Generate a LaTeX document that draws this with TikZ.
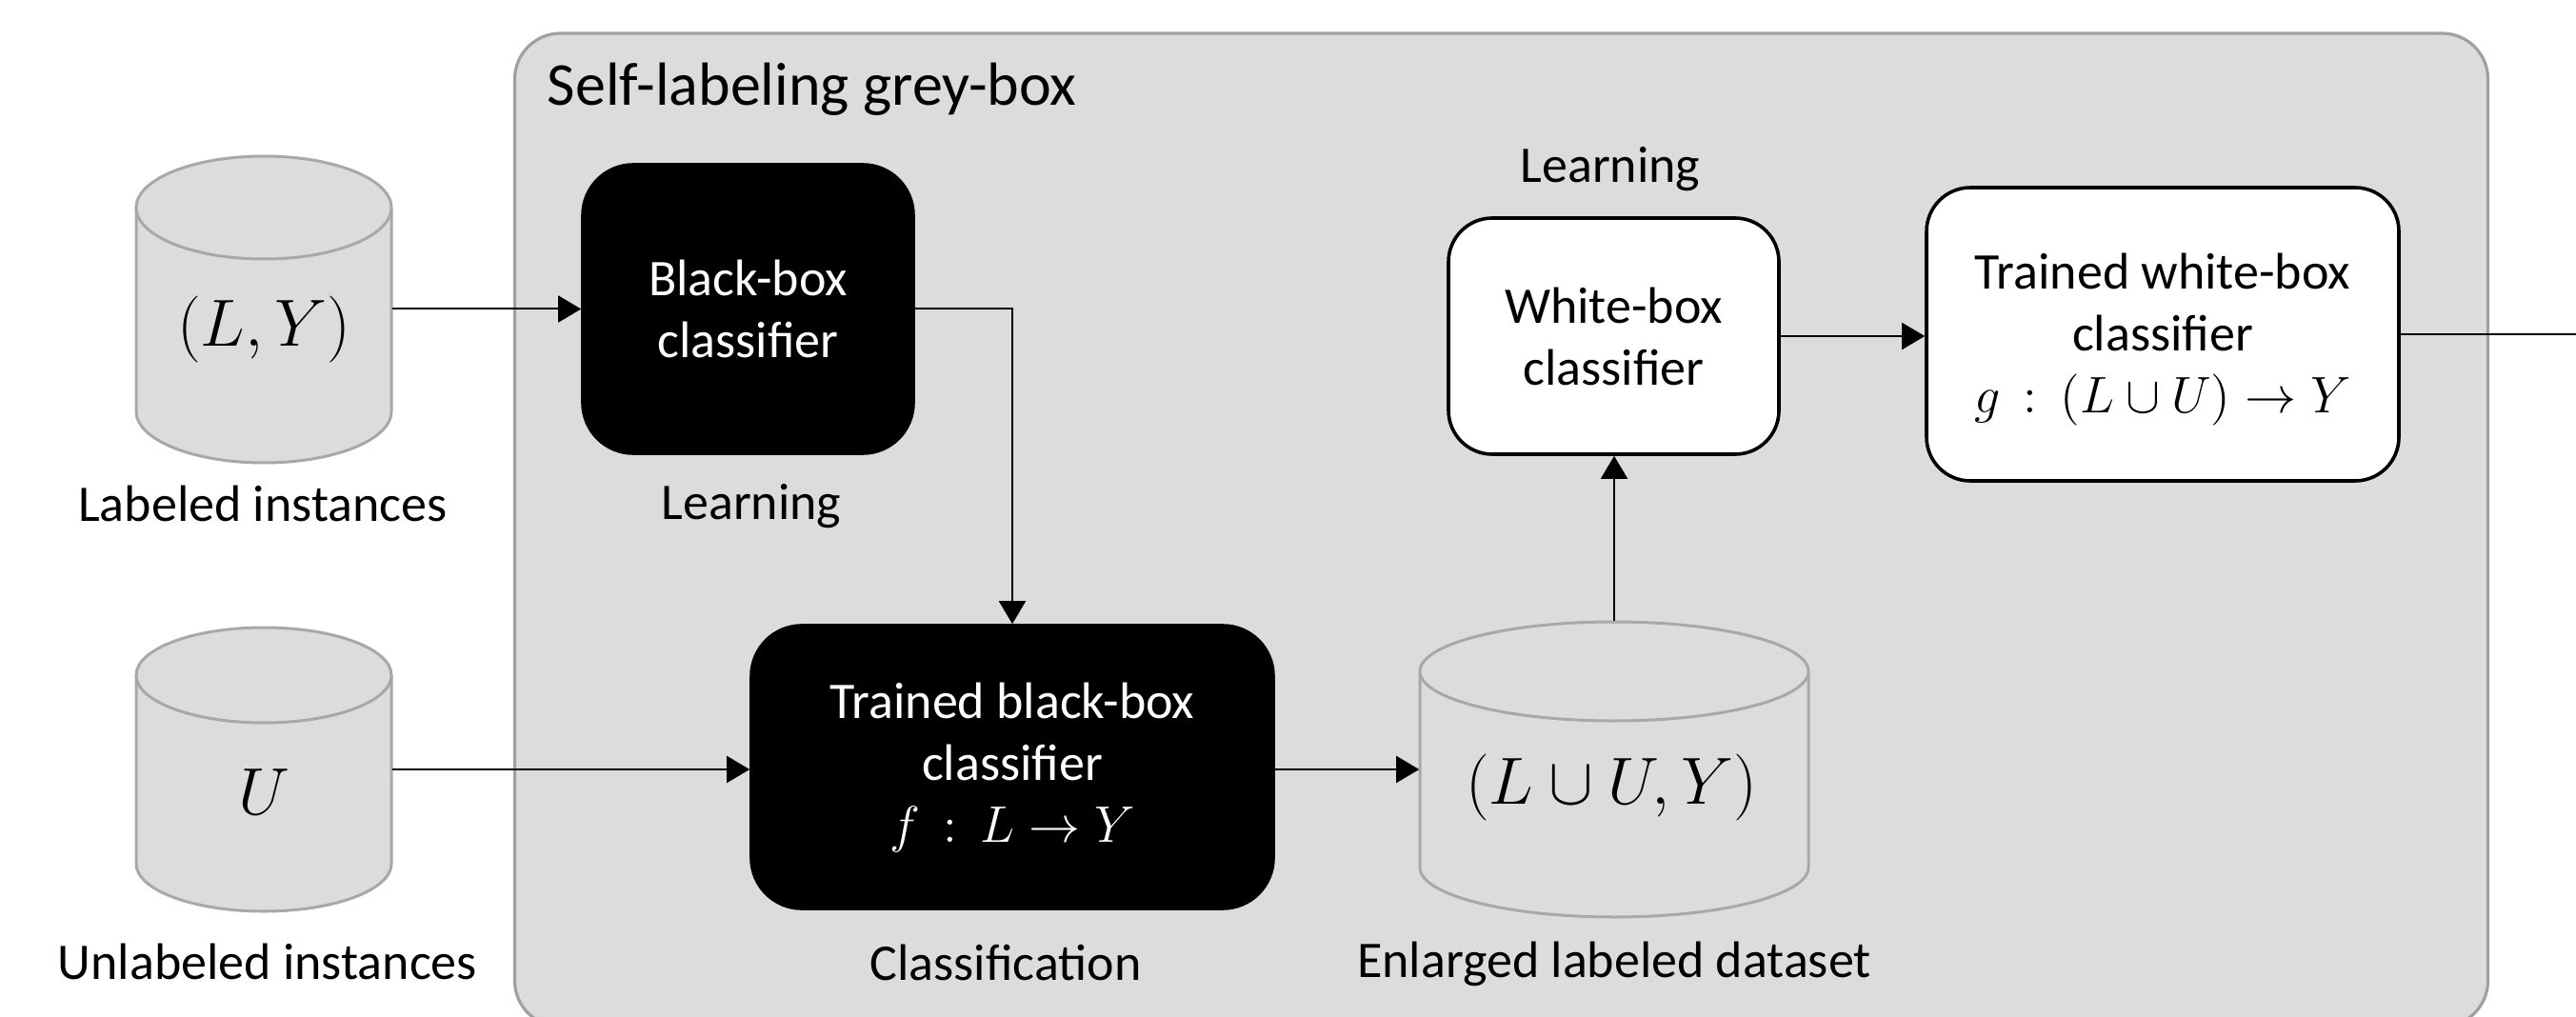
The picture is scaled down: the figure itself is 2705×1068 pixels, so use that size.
\documentclass[tikz,border=0pt]{standalone}
\IfFileExists{fix-cm.sty}{\usepackage{fix-cm}}{}
\usepackage{fontspec}
\setmainfont{Carlito}
\usetikzlibrary{arrows.meta,calc}
\definecolor{boxgrey}{RGB}{220,220,220}
\definecolor{edgegrey}{RGB}{160,160,160}
\definecolor{cylgrey}{RGB}{168,168,168}
\newcommand\dbcyl[5]{% cx, ytop, ybot, rx, ry
  \fill[boxgrey] (#1-#4,#2+#5) -- (#1-#4,#3-#5)
    arc[start angle=180,end angle=0,x radius=#4,y radius=#5] -- (#1+#4,#2+#5) -- cycle;
  \draw[cylline] (#1-#4,#2+#5) -- (#1-#4,#3-#5)
    arc[start angle=180,end angle=0,x radius=#4,y radius=#5] -- (#1+#4,#2+#5);
  \draw[cylline,fill=boxgrey] (#1,#2+#5) ellipse[x radius=#4,y radius=#5];
}
\begin{document}
\begin{tikzpicture}[x=0.25pt,y=-0.25pt,
  txt/.style={font=\fontsize{13.5}{16.25}\selectfont, align=center, inner sep=0pt},
  mtxt/.style={font=\fontsize{17.5}{21}\selectfont, inner sep=0pt},
  blackbox/.style={draw=black, fill=black, text=white, rounded corners=13.5pt, inner sep=0pt,
     align=center, font=\fontsize{13.5}{16.25}\selectfont},
  whitebox/.style={draw=black, line width=0.9pt, fill=white, rounded corners=11.5pt, inner sep=0pt,
     align=center, font=\fontsize{13.5}{16.25}\selectfont},
  greybox/.style={draw=edgegrey, line width=0.8pt, fill=boxgrey, rounded corners=12pt, inner sep=0pt},
  cylline/.style={draw=cylgrey, line width=0.75pt},
  cylnode/.style={inner sep=0pt, draw=none},
  conn/.style={line width=0.5pt, -{Triangle[length=6pt,width=7pt]}},
  plainconn/.style={line width=0.5pt}
]
\useasboundingbox (0,0) rectangle (2705,1068);

% container
\node[greybox, minimum width=518pt, minimum height=260.75pt] (grey) at (1576.5,556.5) {};
\node[anchor=base west, inner sep=0pt, font=\fontsize{16}{19}\selectfont] (title) at (574,111) {Self-labeling grey-box};

% cylinders
\dbcyl{277}{164}{486}{134}{54}
\dbcyl{277}{659}{957}{134}{50}
\dbcyl{1695}{653}{963}{204}{52}
\node[cylnode, minimum width=67pt, minimum height=80.5pt] (cyl1) at (277,325) {};
\node[cylnode, minimum width=67pt, minimum height=74.5pt] (cyl2) at (277,808) {};
\node[cylnode, minimum width=102pt, minimum height=77.5pt] (cyl3) at (1695,808) {};
\node[mtxt] (cyl1t) at (277,346) {$(L,Y)$};
\node[mtxt] (cyl2t) at (277,832) {$U$};
\node[mtxt] (cyl3t) at (1692,827) {$(L\cup U,Y)$};

% boxes
\node[blackbox, minimum width=87.25pt, minimum height=76.25pt] (bb1) at (785.5,324.5) {Black-box\\classifier};
\node[blackbox, minimum width=137.5pt, minimum height=74.75pt] (bb2) at (1063,805.5) {Trained black-box\\classifier\\$f\,:\,L\rightarrow Y$};
\node[whitebox, minimum width=86.75pt, minimum height=62pt] (wb1) at (1694.5,353) {White-box\\classifier};
\node[whitebox, minimum width=124pt, minimum height=77pt] (wb2) at (2271,351) {};
\node[txt] (wb2t) at ($(wb2.center)+(0,6)$) {Trained white-box\\classifier\\$g\,:\,(L\cup U)\rightarrow Y$};

% labels
\node[txt] (lab1) at (276,529) {Labeled instances};
\node[txt] (lab2) at (281,1010) {Unlabeled instances};
\node[txt] (lab3) at (789,532) {Learning};
\node[txt] (lab4) at (1056,1011) {Classification};
\node[txt] (lab5) at (1695,1012) {Enlarged labeled dataset};
\node[txt] (lab6) at (1691,178) {Learning};

% connectors
\coordinate (exit) at (2710,351);
\draw[conn] (cyl1.east |- bb1.west) -- (bb1.west);
\draw[conn] (bb1.east) -| (bb2.north);
\draw[conn] (cyl2.east) -- (cyl2.east -| bb2.west);
\draw[conn] (bb2.east |- cyl3.west) -- (cyl3.west);
\draw[conn] (cyl3.north) -- (cyl3.north |- wb1.south);
\draw[conn] (wb1.east) -- (wb1.east -| wb2.west);
\draw[plainconn] (wb2.east) -- (exit);
\end{tikzpicture}
\end{document}
